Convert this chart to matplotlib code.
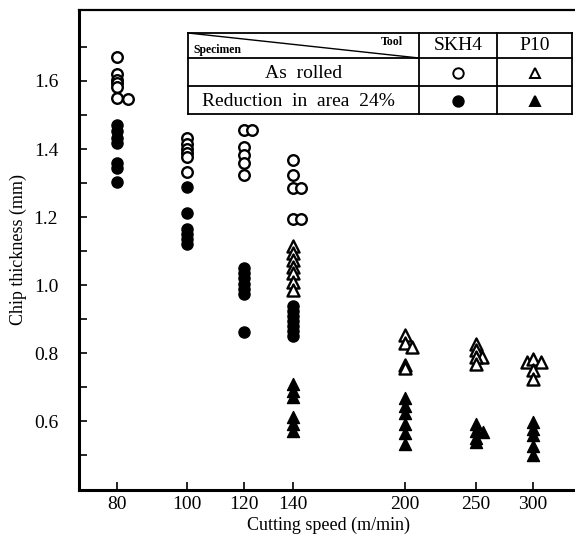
import numpy as np
import matplotlib
matplotlib.use("Agg")
import matplotlib.pyplot as plt
from matplotlib.lines import Line2D
from matplotlib.ticker import FixedLocator, NullLocator, NullFormatter

plt.rcParams['font.family'] = ['Liberation Serif', 'DejaVu Serif']

# cutting speed (m/min) and chip thickness (mm) for each specimen / tool pair
rolled_skh4_speed = [80, 80, 80, 80, 80, 80, 83,
                     100, 100, 100, 100, 100, 100,
                     120, 123, 120, 120, 120, 120,
                     140, 140, 140, 143.5, 140, 143.5]
rolled_skh4_thick = [1.67, 1.622, 1.604, 1.593, 1.581, 1.551, 1.548,
                     1.434, 1.416, 1.40, 1.388, 1.376, 1.333,
                     1.456, 1.456, 1.406, 1.384, 1.36, 1.325,
                     1.367, 1.325, 1.286, 1.286, 1.195, 1.195]

reduced_skh4_speed = [80] * 7 + [100] * 6 + [120] * 7 + [140] * 7
reduced_skh4_thick = [1.47, 1.452, 1.434, 1.417, 1.358, 1.343, 1.302,
                      1.288, 1.213, 1.165, 1.15, 1.135, 1.12,
                      1.052, 1.035, 1.02, 1.005, 0.99, 0.975, 0.862,
                      0.94, 0.925, 0.91, 0.895, 0.88, 0.865, 0.852]

rolled_p10_speed = [140] * 7 + [200, 200, 204.5, 200, 200,
                                250, 250, 254.8, 250, 250,
                                294, 300, 308, 300, 300]
rolled_p10_thick = [1.115, 1.095, 1.075, 1.055, 1.035, 1.01, 0.985,
                    0.855, 0.83, 0.818, 0.765, 0.758,
                    0.828, 0.81, 0.79, 0.79, 0.768,
                    0.775, 0.782, 0.775, 0.75, 0.726]

reduced_p10_speed = [140] * 6 + [200] * 6 + [250, 250, 256, 250, 250] + [300] * 5
reduced_p10_thick = [0.71, 0.69, 0.672, 0.612, 0.592, 0.572,
                     0.668, 0.646, 0.625, 0.592, 0.566, 0.535,
                     0.593, 0.572, 0.568, 0.552, 0.54,
                     0.598, 0.578, 0.56, 0.528, 0.502]

speed_ticks = [80, 100, 120, 140, 200, 250, 300]
thick_ticks = [0.6, 0.8, 1.0, 1.2, 1.4, 1.6]

W, H = 575, 539
fig = plt.figure(figsize=(W / 100, H / 100), dpi=100)


def fx(px):
    return px / W


def fy(py):
    return 1 - py / H


# axes box in pixels: left 79, top 9.5, bottom 489.5, right runs off the page
ax = fig.add_axes([fx(79), fy(489.5), fx(578 - 79), (489.5 - 9.5) / H])

ax.scatter(rolled_skh4_speed, rolled_skh4_thick, s=58, facecolors='white',
           edgecolors='black', linewidths=1.7, zorder=3)
ax.scatter(reduced_skh4_speed, reduced_skh4_thick, s=64, color='black', zorder=3)
ax.scatter(rolled_p10_speed, rolled_p10_thick, s=75, marker='^', facecolors='white',
           edgecolors='black', linewidths=1.7, zorder=3)
ax.scatter(reduced_p10_speed, reduced_p10_thick, s=75, marker='^', color='black', zorder=3)

ax.set_xscale('log')
ax.set_xlim(71, 346)
ax.set_ylim(0.4, 1.81)
ax.xaxis.set_major_locator(FixedLocator(speed_ticks))
ax.xaxis.set_minor_locator(NullLocator())
ax.xaxis.set_minor_formatter(NullFormatter())
ax.set_xticklabels([str(t) for t in speed_ticks])
ax.yaxis.set_major_locator(FixedLocator(thick_ticks))
ax.yaxis.set_minor_locator(FixedLocator(np.arange(0.5, 1.75, 0.2)))
ax.set_yticklabels(['%.1f' % t for t in thick_ticks])

ax.tick_params(axis='both', which='both', direction='in', length=6, width=1.2,
               labelsize=14)
ax.tick_params(axis='x', pad=5)
ax.tick_params(axis='y', pad=15)
for side in ['left', 'bottom']:
    ax.spines[side].set_linewidth(2.2)
ax.spines['top'].set_linewidth(1.6)
ax.spines['right'].set_visible(False)

ax.set_xlabel('Cutting speed (m/min)', fontsize=13, labelpad=2)
ax.set_ylabel('Chip thickness (mm)', fontsize=13, labelpad=5)

# key table in the upper part of the plot
x0, x1, x2, x3 = 188, 419, 497, 572
y0, y1, y2, y3 = 33, 58, 86, 114
lw = 1.3


def hline(y, xa, xb):
    fig.add_artist(Line2D([fx(xa), fx(xb)], [fy(y), fy(y)], color='black', lw=lw,
                          zorder=5))


def vline(x, ya, yb):
    fig.add_artist(Line2D([fx(x), fx(x)], [fy(ya), fy(yb)], color='black', lw=lw,
                          zorder=5))


fig.patches.append(plt.Rectangle((fx(x0), fy(y3)), fx(x3 - x0), (y3 - y0) / H,
                                 transform=fig.transFigure, facecolor='white',
                                 edgecolor='none', zorder=4))
for y in (y0, y1, y2, y3):
    hline(y, x0, x3)
for x in (x0, x1, x2, x3):
    vline(x, y0, y3)
fig.add_artist(Line2D([fx(x0), fx(x1)], [fy(y0), fy(y1)], color='black', lw=1.0,
                      zorder=5))

txt = dict(zorder=6, va='center')
fig.text(fx(193), fy(50), 'Specimen', fontsize=8.5, fontweight='bold', **txt)
fig.text(fx(403), fy(42), 'Tool', fontsize=8.5, fontweight='bold', ha='right', **txt)
fig.text(fx((x1 + x2) / 2), fy(46), 'SKH4', fontsize=14, ha='center', **txt)
fig.text(fx((x2 + x3) / 2), fy(46), 'P10', fontsize=14, ha='center', **txt)
fig.text(fx(304), fy(73), 'As  rolled', fontsize=14, ha='center', **txt)
fig.text(fx(298), fy(101), 'Reduction  in  area  24%', fontsize=14, ha='center', **txt)

key = [((x1 + x2) / 2, 73, 'o', 'white'), ((x2 + x3) / 2, 73, '^', 'white'),
       ((x1 + x2) / 2, 101, 'o', 'black'), ((x2 + x3) / 2, 101, '^', 'black')]
for kx, ky, mk, fc in key:
    fig.add_artist(Line2D([fx(kx)], [fy(ky)], marker=mk, markersize=7.5,
                          markerfacecolor=fc, markeredgecolor='black',
                          markeredgewidth=1.4, linestyle='none', zorder=6))

fig.savefig('out.png', dpi=100)
